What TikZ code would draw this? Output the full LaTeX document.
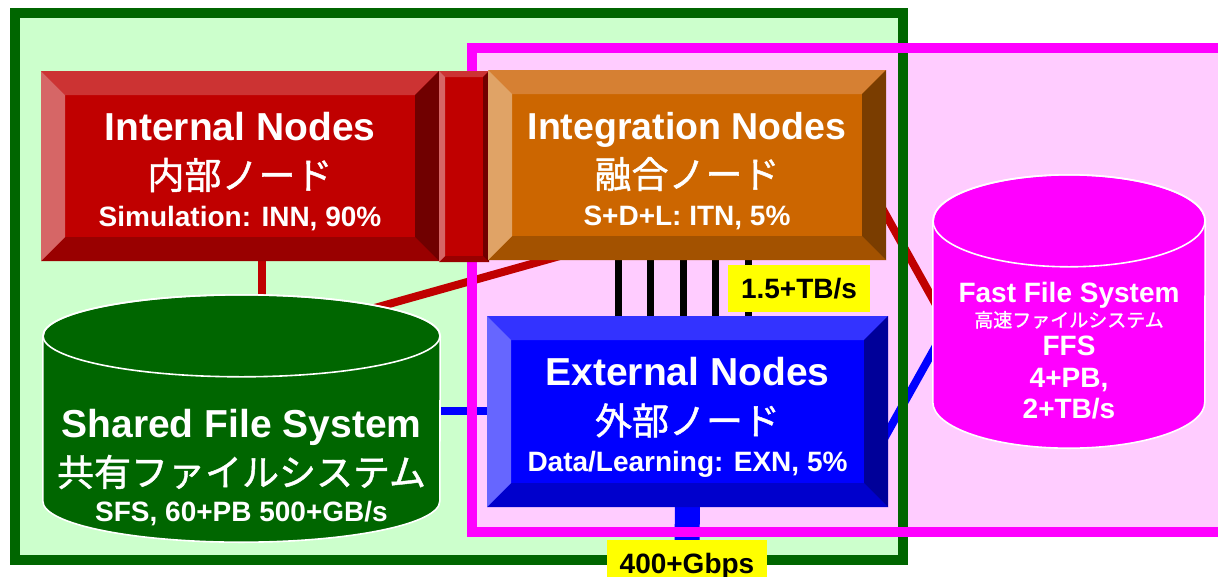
\documentclass[tikz,border=0pt]{standalone}
\usepackage{fontspec}
\setmainfont{Liberation Sans}
\newfontfamily\jpfont{Noto Sans CJK JP}[FakeBold=1.2]
\usetikzlibrary{calc}

\definecolor{frameGreen}{HTML}{006600}
\definecolor{paleGreen}{HTML}{CCFFCC}
\definecolor{paleMagenta}{HTML}{FFCCFF}
\definecolor{magentaEdge}{HTML}{FF00FF}
\definecolor{innFace}{HTML}{C00000}
\definecolor{innTop}{HTML}{CC3333}
\definecolor{innLeft}{HTML}{D66666}
\definecolor{innRight}{HTML}{700000}
\definecolor{innBottom}{HTML}{990000}
\definecolor{itnFace}{HTML}{CC6600}
\definecolor{itnTop}{HTML}{D68033}
\definecolor{itnLeft}{HTML}{E0A366}
\definecolor{itnRight}{HTML}{7A3D00}
\definecolor{itnBottom}{HTML}{A35200}
\definecolor{exnFace}{HTML}{0000FF}
\definecolor{exnTop}{HTML}{3333FF}
\definecolor{exnLeft}{HTML}{6666FF}
\definecolor{exnRight}{HTML}{000099}
\definecolor{exnBottom}{HTML}{0000CC}
\definecolor{tagYellow}{HTML}{FFFF00}

\pgfdeclarelayer{back}
\pgfdeclarelayer{lines}
\pgfdeclarelayer{frames}
\pgfsetlayers{back,lines,frames,main}

% cylinder drawn inside the extent of a named node: #1 node, #2 x radius, #3 y radius, #4 fill
\newcommand\drumpaint[4]{%
  \filldraw[fill=#4, draw=white, line width=1.6pt]
    ($(#1.north west)+(0,#3)$) -- ($(#1.south west)+(0,-#3)$)
    arc[start angle=180, end angle=360, x radius=#2pt, y radius=#3pt]
    -- ($(#1.north east)+(0,#3)$)
    arc[start angle=0, end angle=180, x radius=#2pt, y radius=#3pt] -- cycle;
  \draw[white, line width=1.6pt] ($(#1.north)+(0,#3)$) ellipse [x radius=#2pt, y radius=#3pt];
}

\tikzset{
  bevelbox/.style n args={6}{fill=#2, draw=none, inner sep=0pt,
    path picture={
      \fill[#3] (path picture bounding box.north west) -- (path picture bounding box.north east)
        -- ([xshift=-#1pt,yshift=-#1pt]path picture bounding box.north east)
        -- ([xshift=#1pt,yshift=-#1pt]path picture bounding box.north west) -- cycle;
      \fill[#6] (path picture bounding box.south west) -- (path picture bounding box.south east)
        -- ([xshift=-#1pt,yshift=#1pt]path picture bounding box.south east)
        -- ([xshift=#1pt,yshift=#1pt]path picture bounding box.south west) -- cycle;
      \fill[#4] (path picture bounding box.north west) -- (path picture bounding box.south west)
        -- ([xshift=#1pt,yshift=#1pt]path picture bounding box.south west)
        -- ([xshift=#1pt,yshift=-#1pt]path picture bounding box.north west) -- cycle;
      \fill[#5] (path picture bounding box.north east) -- (path picture bounding box.south east)
        -- ([xshift=-#1pt,yshift=#1pt]path picture bounding box.south east)
        -- ([xshift=-#1pt,yshift=-#1pt]path picture bounding box.north east) -- cycle;
    }},
  redbox/.style={bevelbox={24}{innFace}{innTop}{innLeft}{innRight}{innBottom}},
  redslab/.style={bevelbox={6}{innFace}{innTop}{innLeft}{innRight}{innBottom}},
  orangebox/.style={bevelbox={24}{itnFace}{itnTop}{itnLeft}{itnRight}{itnBottom}},
  bluebox/.style={bevelbox={24}{exnFace}{exnTop}{exnLeft}{exnRight}{exnBottom}},
  drum/.style={draw=none, inner sep=0pt},
  title/.style={text=white, inner sep=0pt, anchor=base, font=\bfseries\fontsize{39pt}{39pt}\selectfont},
  jptitle/.style={text=white, inner sep=0pt, anchor=base, font=\jpfont\fontsize{37pt}{37pt}\selectfont},
  detail/.style={text=white, inner sep=0pt, anchor=base, font=\bfseries\fontsize{28pt}{28pt}\selectfont},
  ffsline/.style={text=white, inner sep=0pt, anchor=base, font=\bfseries\fontsize{28pt}{28pt}\selectfont},
  ffsjp/.style={text=white, inner sep=0pt, anchor=base, font=\jpfont\fontsize{19pt}{19pt}\selectfont},
  tag/.style={fill=tagYellow, text=black, inner sep=0pt, minimum height=47pt,
    text height=20pt, text depth=0pt, font=\bfseries\fontsize{28pt}{28pt}\selectfont},
  redline/.style={draw=innFace, line width=8pt},
  blueline/.style={draw=exnFace, line width=8pt},
  busline/.style={draw=black, line width=7pt},
  widebar/.style={draw=exnFace, line width=25pt},
}

\begin{document}
\begin{tikzpicture}[x=1pt,y=-1pt]
\useasboundingbox (0,0) rectangle (1218,576);

% panel backgrounds and their borders
\begin{pgfonlayer}{back}
  \fill[paleGreen] (15,13) rectangle (903,560);
  \fill[paleMagenta] (472,48) rectangle (1235,532);
\end{pgfonlayer}
\begin{pgfonlayer}{frames}
  \draw[frameGreen, line width=10pt] (15,13) rectangle (903,560);
  \draw[magentaEdge, line width=10pt] (472,48) rectangle (1235,532);
\end{pgfonlayer}

% node groups
\node[redbox, minimum width=398pt, minimum height=190pt] (inn) at (240,166) {};
\node[redslab, minimum width=50pt, minimum height=191pt] (innslab) at (464,166.5) {};
\node[orangebox, minimum width=398pt, minimum height=190pt] (itn) at (687,165) {};
\node[bluebox, minimum width=401pt, minimum height=191pt] (exn) at (687.5,411.5) {};

% file systems
\node[drum, minimum width=397pt, minimum height=247pt] (sfs) at (241.5,418.5) {};
\drumpaint{sfs}{198.5}{41}{frameGreen}
\node[drum, minimum width=272pt, minimum height=273pt] (ffs) at (1069,311.5) {};
\drumpaint{ffs}{136}{46}{magentaEdge}

% labels of the node groups
\node[title]    (inn-en) at ([yshift=26pt]inn.center) {Internal Nodes};
\node[jptitle]  (inn-jp) at ([yshift=-23pt]inn.center) {内部ノード};
\node[detail]   (inn-de) at ([yshift=-60pt]inn.center) {Simulation: INN, 90\%};

\node[title, font=\bfseries\fontsize{37.5pt}{37.5pt}\selectfont]
                (itn-en) at ([yshift=26pt]itn.center) {Integration Nodes};
\node[jptitle]  (itn-jp) at ([yshift=-23pt]itn.center) {融合ノード};
\node[detail]   (itn-de) at ([yshift=-60pt]itn.center) {S+D+L: ITN, 5\%};

\node[title]    (exn-en) at ([yshift=26pt]exn.center) {External Nodes};
\node[jptitle]  (exn-jp) at ([yshift=-23pt]exn.center) {外部ノード};
\node[detail]   (exn-de) at ([yshift=-60pt]exn.center) {Data/Learning: EXN, 5\%};

\node[title]    (sfs-en) at ([yshift=-18.5pt]sfs.center) {Shared File System};
\node[jptitle]  (sfs-jp) at ([yshift=-67.5pt]sfs.center) {共有ファイルシステム};
\node[detail]   (sfs-de) at ([yshift=-102.5pt]sfs.center) {SFS, 60+PB 500+GB/s};

\node[ffsline]  (ffs-en) at ([yshift=9.5pt]ffs.center) {Fast File System};
\node[ffsjp]    (ffs-jp) at ([yshift=-15.5pt]ffs.center) {高速ファイルシステム};
\node[ffsline]  (ffs-ab) at ([yshift=-43.5pt]ffs.center) {FFS};
\node[ffsline]  (ffs-cp) at ([yshift=-75.5pt]ffs.center) {4+PB,};
\node[ffsline]  (ffs-bw) at ([yshift=-106.5pt]ffs.center) {2+TB/s};

% bandwidth tags
\node[tag, minimum width=142pt] (tbs) at (799,288.5) {1.5+TB/s};
\node[tag, minimum width=160pt] (gbps) at (687,563.5) {400+Gbps};

% links
\begin{pgfonlayer}{lines}
  \draw[redline] ($(inn.south)+(22,-5)$) coordinate (innfoot) -- (innfoot |- sfs.north);
  \draw[redline] ($(sfs.north)+(128.5,14.5)$) -- ($(itn.south west)+(82,-7)$);
  \draw[redline] ($(itn.east)+(-17,20)$) -- ($(ffs.west)+(12,9)$);
  \draw[blueline] ($(sfs.east)+(-5,-7.5)$) -- ($(exn.west)+(5,-0.5)$);
  \draw[blueline] ($(exn.east)+(-13,43)$) -- ($(ffs.west)+(12,18.5)$);
  \foreach \dx in {-69,-37,-4,28,61} {
    \draw[busline] ($(itn.south)+(\dx,-4)$) coordinate (busfoot) -- ($(busfoot |- exn.north)+(0,4)$);
  }
  \draw[widebar] ($(exn.south)+(0,-4)$) -- ($(gbps.north)+(0,4)$);
\end{pgfonlayer}
\end{tikzpicture}
\end{document}
